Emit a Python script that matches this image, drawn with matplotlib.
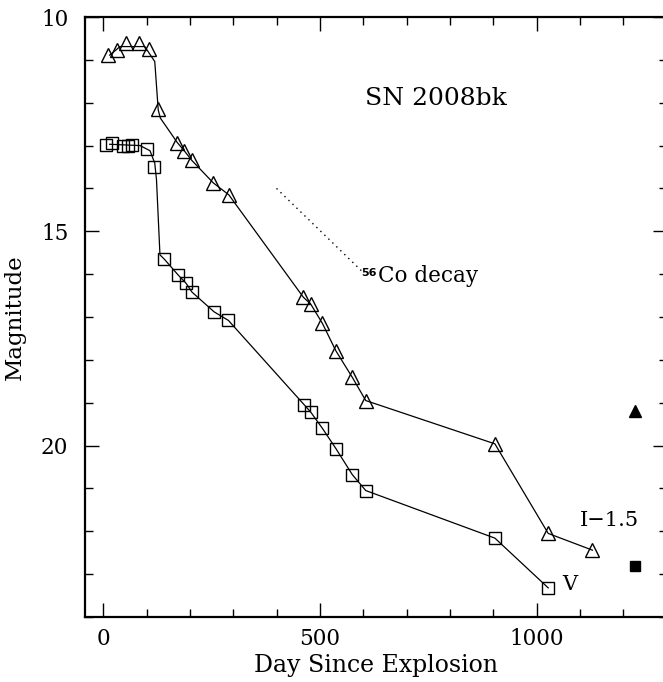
import matplotlib
matplotlib.use('Agg')
import matplotlib.pyplot as plt
import numpy as np

# V band photometry (day since explosion, magnitude)
v_day = [5.5, 21, 46, 58, 67, 100, 118, 141, 173, 191, 205, 256, 289,
         464, 479, 506, 537, 575, 606, 904, 1027]
v_mag = [12.99, 12.93, 13.0, 13.0, 12.99, 13.07, 13.51, 15.65, 16.02, 16.21,
         16.42, 16.88, 17.08, 19.05, 19.22, 19.6, 20.07, 20.68, 21.05, 22.16, 23.32]

# I band, shifted by -1.5 mag
i_day = [11.5, 32, 52, 82, 105, 127, 171, 187, 204, 254, 290,
         462, 479, 506, 537, 575, 606, 904, 1027, 1129]
i_mag = [10.89, 10.77, 10.6, 10.6, 10.75, 12.15, 12.93, 13.12, 13.34, 13.87, 14.15,
         16.54, 16.70, 17.15, 17.79, 18.41, 18.95, 19.96, 22.05, 22.44]

# hand drawn curves through the early points
v_curve_day = [15, 85, 108, 119, 123, 131]
v_curve_mag = [12.97, 13.0, 13.12, 13.41, 13.8, 15.55]
i_curve_day = [15, 39, 96, 119, 127, 132]
i_curve_mag = [10.89, 10.69, 10.69, 11.04, 12.17, 12.36]

# late time points (filled)
late_day = [1227]
late_v = [22.81]
late_i = [19.19]

# 56Co decay slope
co_day = [400, 600]
co_mag = [14.0, 15.96]

serif = 'DejaVu Serif'

fig = plt.figure(figsize=(6.63, 6.82), dpi=100)
ax = fig.add_axes([85/663, 65/682, 581.5/663, 600/682])

ax.plot(v_curve_day + v_day[7:], v_curve_mag + v_mag[7:], color='black', lw=0.9)
ax.plot(i_curve_day + i_day[6:], i_curve_mag + i_mag[6:], color='black', lw=0.9)
ax.plot(v_day, v_mag, ls='none', marker='s', ms=8.5, mfc='none', mec='black', mew=1.0)
ax.plot(i_day, i_mag, ls='none', marker='^', ms=9.5, mfc='none', mec='black', mew=1.0)
ax.plot(late_day, late_v, ls='none', marker='s', ms=7, color='black')
ax.plot(late_day, late_i, ls='none', marker='^', ms=8, color='black')
ax.plot(co_day, co_mag, color='black', ls=(0, (1, 3)), lw=1.0)

ax.text(604, 11.89, 'SN 2008bk', family=serif, fontsize=18, ha='left', va='center')
ax.text(632, 15.86, '56', family='DejaVu Sans', fontsize=8, fontweight='bold',
        ha='right', va='top')
ax.text(634, 16.18, 'Co decay', family=serif, fontsize=15.5, ha='left', va='baseline')
ax.text(1169, 21.74, 'I\u22121.5', family=serif, fontsize=15, ha='center', va='center')
ax.text(1060, 23.25, 'V', family=serif, fontsize=15, ha='left', va='center')

ax.set_xlim(-42, 1300)
ax.set_ylim(24, 10)
ax.set_xticks([0, 500, 1000])
ax.set_xticks(np.arange(0, 1301, 100), minor=True)
ax.set_yticks([10, 15, 20])
ax.set_yticks(np.arange(10, 25, 1), minor=True)
ax.tick_params(which='both', direction='in', top=True, right=True, width=1.0)
ax.tick_params(which='major', length=10)
ax.tick_params(which='minor', length=5.5)
ax.tick_params(axis='x', which='major', pad=8)
ax.tick_params(axis='y', which='major', pad=12)
for lab in ax.get_xticklabels() + ax.get_yticklabels():
    lab.set_family(serif)
    lab.set_fontsize(15.5)
for sp in ax.spines.values():
    sp.set_linewidth(1.6)

ax.set_xlabel('Day Since Explosion', family=serif, fontsize=17, labelpad=3)
ax.set_ylabel('Magnitude', family=serif, fontsize=16.5, labelpad=11)

fig.savefig('out.png', dpi=100)
